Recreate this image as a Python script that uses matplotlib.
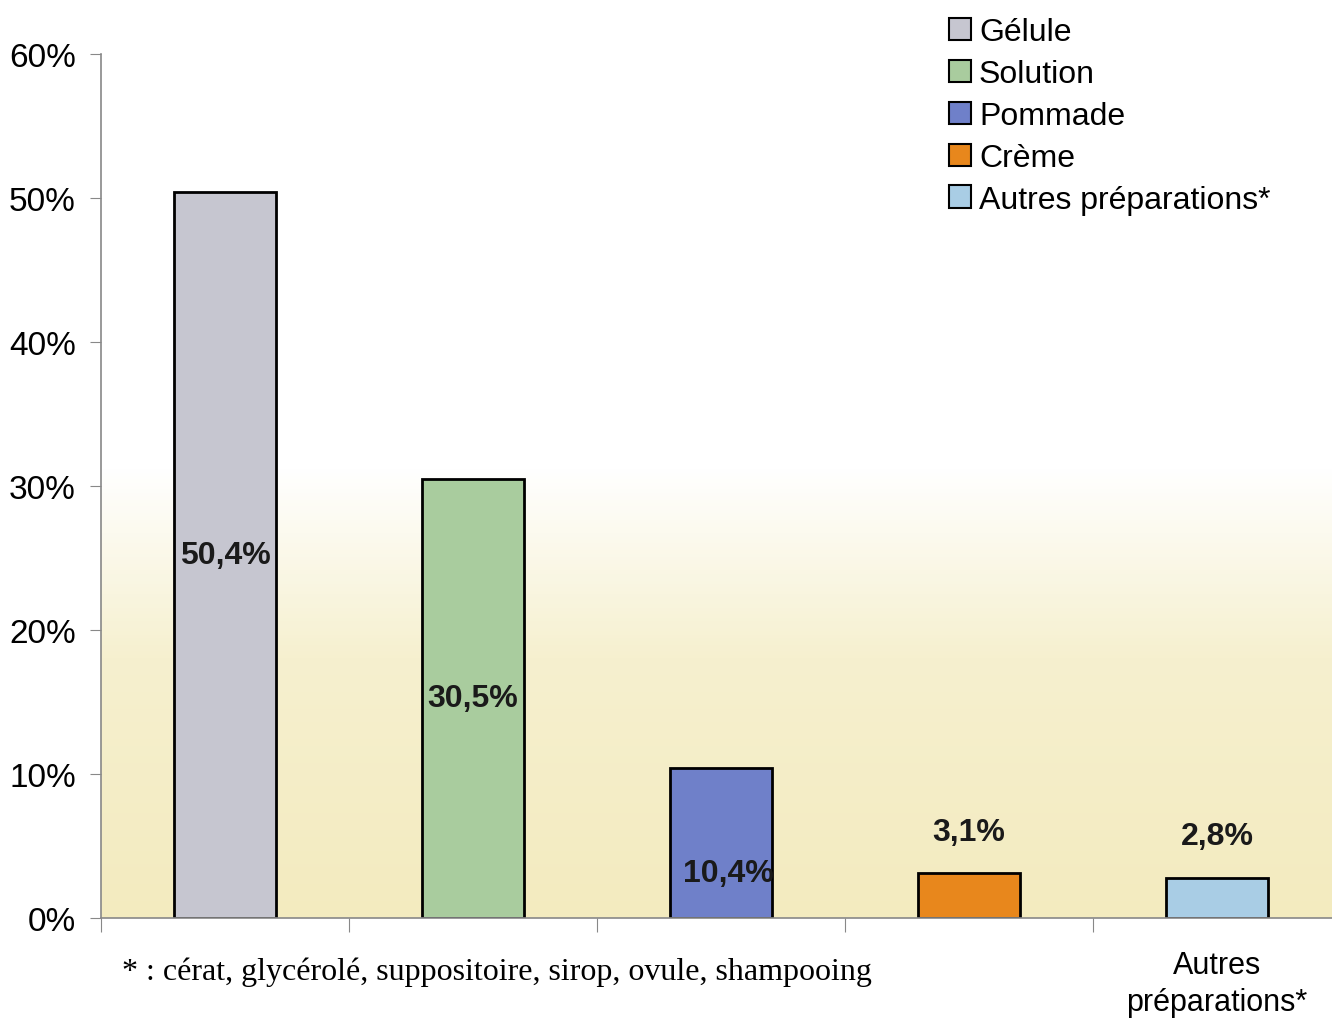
import numpy as np
import matplotlib.pyplot as plt
from matplotlib.colors import LinearSegmentedColormap

categories = ['Gélule', 'Solution', 'Pommade', 'Crème', 'Autres préparations*']
valeurs = [50.4, 30.5, 10.4, 3.1, 2.8]
etiquettes = ['50,4%', '30,5%', '10,4%', '3,1%', '2,8%']
couleurs = ['#C6C6D0', '#A9CC9E', '#6F80C9', '#E8871C', '#A9CDE5']
yticks = [0, 10, 20, 30, 40, 50, 60]
note = '* : cérat, glycérolé, suppositoire, sirop, ovule, shampooing'

plt.rcParams['font.family'] = ['Liberation Sans', 'DejaVu Sans']

fig = plt.figure(figsize=(13.32, 10.2), dpi=100)
ax = fig.add_axes([0.0758, 0.099, 0.931, 0.847])

x = np.arange(len(valeurs))

# fond degrade blanc -> jaune pale
fond = LinearSegmentedColormap.from_list('fond', [(0, '#F3EBBF'), (0.30, '#F6F0CF'), (0.52, '#FFFFFF'), (1, '#FFFFFF')])
grad = np.linspace(0, 1, 256).reshape(-1, 1)
ax.imshow(grad, cmap=fond, origin='lower', aspect='auto',
          extent=[-0.5, len(valeurs) - 0.5, 0, 60], zorder=0)

ax.bar(x, valeurs, width=0.41, color=couleurs, edgecolor='black', linewidth=2,
       label=categories, zorder=2)

# etiquettes des barres
for i, (v, t) in enumerate(zip(valeurs, etiquettes)):
    if v > 20:
        ax.text(i, v / 2, t, ha='center', va='center', fontsize=23, fontweight='bold', color='#1a1a1a', zorder=3)
    elif v > 5:
        ax.text(i + 0.03, v / 3.3, t, ha='center', va='center', fontsize=23, fontweight='bold', color='#1a1a1a', zorder=3)
    else:
        ax.text(i, v + 2.9, t, ha='center', va='center', fontsize=23, fontweight='bold', color='#1a1a1a', zorder=3)

ax.set_xlim(-0.5, len(valeurs) - 0.5)
ax.set_ylim(0, 60)
ax.set_yticks(yticks)
ax.set_yticklabels([f'{t}%' for t in yticks], fontsize=24)

ax.set_xticks(np.arange(len(valeurs) + 1) - 0.5)
ax.set_xticklabels([])
ax.set_xticks(x, minor=True)
ax.set_xticklabels(['', '', '', '', 'Autres\npréparations*'], minor=True, fontsize=22, linespacing=1.3)
ax.tick_params(axis='x', which='major', length=10, color='#888888', direction='out')
ax.tick_params(axis='x', which='minor', length=0, pad=23)
ax.tick_params(axis='y', length=8, color='#888888', pad=10)

for s in ['top', 'right']:
    ax.spines[s].set_visible(False)
for s in ['left', 'bottom']:
    ax.spines[s].set_color('#888888')
    ax.spines[s].set_linewidth(1.2)

leg = fig.legend(loc='upper left', bbox_to_anchor=(0.693, 1.007), frameon=False,
                 fontsize=23, handlelength=0.7, handleheight=0.7, handletextpad=0.25,
                 labelspacing=0.37, borderaxespad=0.4)
for h in leg.legend_handles:
    h.set_linewidth(1.5)

fig.text(0.0916, 0.047, note, fontsize=23, family='Liberation Serif', va='center', ha='left')

fig.savefig('out.png', dpi=100)
